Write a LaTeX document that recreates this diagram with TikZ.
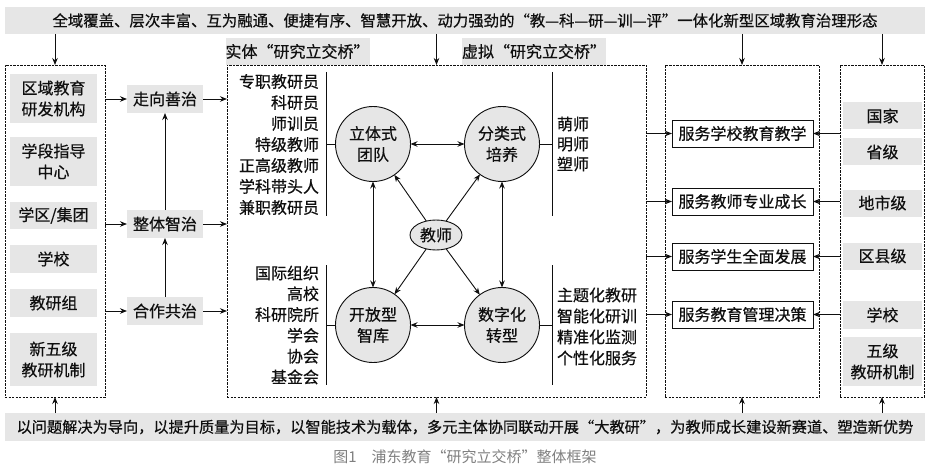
\documentclass[tikz,border=0pt]{standalone}
\usepackage{fontspec}
\setmainfont{Noto Sans CJK SC}[FakeBold=0.5]
\newfontfamily\capfont{Noto Sans CJK SC}
\usetikzlibrary{arrows.meta,shapes.geometric}
\definecolor{boxgray}{RGB}{230,230,230}
\definecolor{inkc}{RGB}{15,15,15}
\begin{document}
\begin{tikzpicture}[x=1pt,y=-1pt,
  every node/.style={inner sep=0pt, outer sep=0pt, font=\fontsize{16}{21}\selectfont, text=inkc},
  graybox/.style={fill=boxgray, align=center},
  dashbox/.style={draw=inkc, dash pattern=on 2.2pt off 1.3pt, line width=0.8pt},
  arr/.style={-{Stealth[length=7pt,width=5.5pt]}, line width=0.9pt, draw=inkc},
  darr/.style={{Stealth[length=7pt,width=5.5pt]}-{Stealth[length=7pt,width=5.5pt]}, line width=0.9pt, draw=inkc},
  circ/.style={circle, draw=inkc, line width=0.9pt, fill=boxgray, minimum size=75pt, align=center},
  svc/.style={draw=inkc, line width=0.9pt, minimum width=141pt, minimum height=27pt},
  link/.style={line width=0.9pt, draw=inkc}
]
\useasboundingbox (0,0) rectangle (929,468);
\fill[white] (0,0) rectangle (929,468);

% banners
\node[graybox, minimum width=920pt, minimum height=27pt, font=\fontsize{15.4}{20}\selectfont] (top) at (465,20.5)
  {全域覆盖、层次丰富、互为融通、便捷有序、智慧开放、动力强劲的“教—科—研—训—评”一体化新型区域教育治理形态};
\node[graybox, minimum width=920pt, minimum height=28pt, font=\fontsize{15.2}{20}\selectfont] (bot) at (465,427)
  {以问题解决为导向，以提升质量为目标，以智能技术为载体，多元主体协同联动开展“大教研”，为教师成长建设新赛道、塑造新优势};
\node[text=black!50, font=\capfont\fontsize{15}{18}\selectfont] (cap) at (465,457) {图1\quad 浦东教育“研究立交桥”整体框架};

% dashed frames
\node[dashbox, minimum width=100pt, minimum height=332pt] (L) at (55,231) {};
\node[dashbox, minimum width=419pt, minimum height=332pt] (M) at (436.5,231) {};
\node[dashbox, minimum width=154pt, minimum height=332pt] (S) at (742,231) {};
\node[dashbox, minimum width=84pt, minimum height=332pt] (R) at (882,231) {};

% frame labels
\node[graybox, minimum width=141pt, minimum height=27pt] (lab1) at (297.5,51.5) {实体“研究立交桥”};
\node[graybox, minimum width=144pt, minimum height=27pt] (lab2) at (534,51.5) {虚拟“研究立交桥”};

% banner arrows
\foreach \f in {L,M,S,R}{
  \draw[arr] (top.south -| \f.north) -- (\f.north);
  \draw[arr] (bot.north -| \f.south) -- (\f.south);
}

% left items
\node[graybox, minimum width=87pt, minimum height=49pt] (l1) at (53.5,98.5) {区域教育\\研发机构};
\node[graybox, minimum width=87pt, minimum height=49pt] (l2) at (53.5,161.5) {学段指导\\中心};
\node[graybox, minimum width=87pt, minimum height=27pt] (l3) at (53.5,215.5) {学区/集团};
\node[graybox, minimum width=87pt, minimum height=28pt] (l4) at (53.5,259) {学校};
\node[graybox, minimum width=87pt, minimum height=28pt] (l5) at (53.5,303) {教研组};
\node[graybox, minimum width=87pt, minimum height=53pt] (l6) at (53.5,359.5) {新五级\\教研机制};

% governance
\node[graybox, minimum width=76pt, minimum height=28pt] (g1) at (165,99) {走向善治};
\node[graybox, minimum width=76pt, minimum height=28pt] (g2) at (165,224) {整体智治};
\node[graybox, minimum width=76pt, minimum height=28pt] (g3) at (165,311) {合作共治};
\foreach \g in {g1,g2,g3}{
  \draw[arr] (L.east |- \g) -- (\g.west);
  \draw[arr] (\g.east) -- (M.west |- \g);
}
\draw[arr] (g3.north) -- (g2.south);
\draw[arr] (g2.north) -- (g1.south);

% circles
\node[circ] (c1) at (373,144) {立体式\\团队};
\node[circ] (c2) at (502,144) {分类式\\培养};
\node[circ] (c3) at (373,325) {开放型\\智库};
\node[circ] (c4) at (502,325) {数字化\\转型};
\node[ellipse, draw=inkc, line width=0.9pt, fill=boxgray, minimum width=52pt, minimum height=30pt] (t) at (436,235) {教师};
\draw[darr] (c1) -- (c2);
\draw[darr] (c3) -- (c4);
\draw[darr] (c1) -- (c3);
\draw[darr] (c2) -- (c4);
\foreach \c in {c1,c2,c3,c4}{ \draw[arr] (t) -- (\c); }

% lists
\node[anchor=east, align=right] (list1) at (319,144.5)
  {专职教研员\\科研员\\师训员\\特级教师\\正高级教师\\学科带头人\\兼职教研员};
\node[anchor=west, align=left, font=\fontsize{16}{20}\selectfont] (list2) at (557,144)
  {萌师\\明师\\塑师};
\node[anchor=east, align=right, font=\fontsize{16}{20.8}\selectfont] (list3) at (319,325)
  {国际组织\\高校\\科研院所\\学会\\协会\\基金会};
\node[anchor=west, align=left, font=\fontsize{16}{21}\selectfont] (list4) at (557,326.5)
  {主题化教研\\智能化研训\\精准化监测\\个性化服务};

\coordinate (v1t) at (326,72);  \coordinate (v1b) at (326,216);
\coordinate (v2t) at (552,72);  \coordinate (v2b) at (552,216);
\coordinate (v3t) at (326,265); \coordinate (v3b) at (326,385);
\coordinate (v4t) at (552,265); \coordinate (v4b) at (552,385);
\draw[link] (v1t) -- (v1b);
\draw[link] (v2t) -- (v2b);
\draw[link] (v3t) -- (v3b);
\draw[link] (v4t) -- (v4b);
\draw[link] (c1.west) -- (c1.west -| v1t);
\draw[link] (c2.east) -- (c2.east -| v2t);
\draw[link] (c3.west) -- (c3.west -| v3t);
\draw[link] (c4.east) -- (c4.east -| v4t);

% services
\node[svc] (s1) at (742.5,133.5) {服务学校教育教学};
\node[svc] (s2) at (742.5,201.5) {服务教师专业成长};
\node[svc] (s3) at (742.5,256.5) {服务学生全面发展};
\node[svc] (s4) at (742.5,314.5) {服务教育管理决策};
\foreach \s in {s1,s2,s3,s4}{
  \draw[arr] (M.east |- \s) -- (\s.west);
  \draw[arr] (R.west |- \s) -- (\s.east);
}

% right items
\node[graybox, minimum width=79pt, minimum height=27pt] (r1) at (882.5,116) {国家};
\node[graybox, minimum width=79pt, minimum height=27pt] (r2) at (882.5,152) {省级};
\node[graybox, minimum width=79pt, minimum height=27pt] (r3) at (882.5,203) {地市级};
\node[graybox, minimum width=79pt, minimum height=27pt] (r4) at (882.5,256) {区县级};
\node[graybox, minimum width=79pt, minimum height=28pt] (r5) at (882.5,315) {学校};
\node[graybox, minimum width=79pt, minimum height=49pt] (r6) at (882.5,361.5) {五级\\教研机制};
\end{tikzpicture}
\end{document}
